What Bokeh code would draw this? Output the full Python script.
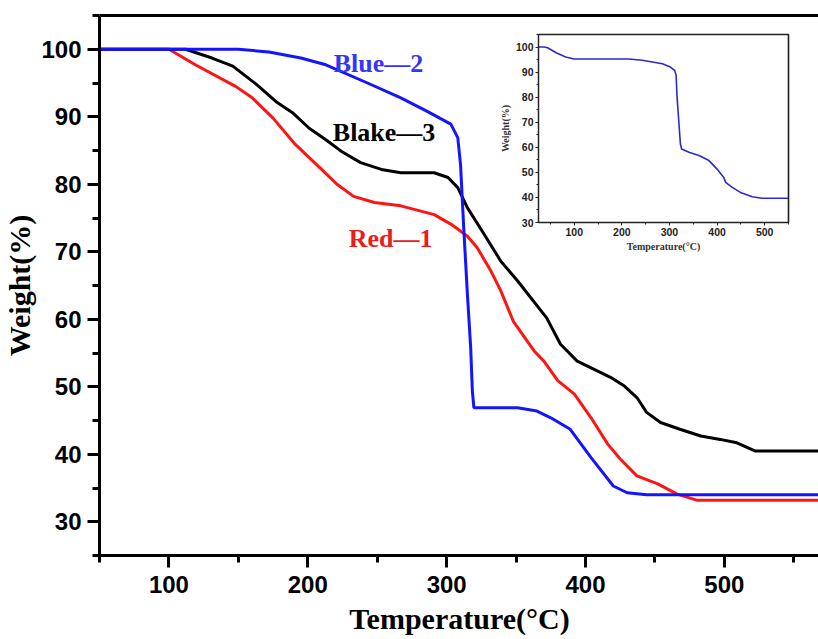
from bokeh.plotting import figure
from bokeh.models import SingleIntervalTicker, FixedTicker, LinearAxis, Range1d, Label
from bokeh.layouts import column
from bokeh.embed import file_html
from bokeh.resources import INLINE

# ---- data (main chart) ----
red_T = [50, 100, 119, 148, 160, 175, 191, 209, 221, 233, 248, 267, 291, 303, 315, 322,
         332, 339, 348, 363, 370, 380, 392, 404, 416, 425, 437, 452, 466, 480, 568.5]
red_W = [100, 100, 97.7, 94.5, 92.8, 89.8, 85.9, 82.4, 80.0, 78.2, 77.3, 76.8, 75.5, 74.1, 72.3, 70.6,
         67.1, 64.2, 59.7, 55.3, 53.8, 50.9, 48.9, 45.4, 41.5, 39.3, 36.8, 35.6, 34.1, 33.2, 33.2]

black_T = [50, 112, 131, 146, 163, 178, 189, 201, 213, 224, 238, 253, 267, 291, 301, 308, 315,
           327, 339, 351, 372, 382, 394, 404, 418, 428, 437, 444, 454, 468, 483, 497, 509, 522, 568.5]
black_W = [100, 100, 98.7, 97.5, 94.8, 92.1, 90.6, 88.3, 86.6, 84.9, 83.2, 82.2, 81.7, 81.7, 81.0, 79.5, 76.5,
           72.6, 68.6, 65.7, 60.2, 56.3, 53.8, 52.8, 51.4, 50.1, 48.4, 46.2, 44.7, 43.7, 42.7, 42.2, 41.7, 40.5, 40.5]

blue_T = [50, 150, 172, 195, 213, 243, 267, 286, 303, 308, 310, 312.4, 315, 317.3, 318.5, 319.6,
          351, 365, 375, 389, 404, 420, 430, 444, 568.5]
blue_W = [100, 100, 99.6, 98.7, 97.7, 95.0, 92.8, 90.8, 88.9, 86.9, 82.9, 73.1, 63.5, 55.8, 49.4, 46.9,
          46.9, 46.4, 45.4, 43.7, 39.5, 35.3, 34.3, 34.0, 34.0]

# ---- data (inset) ----
inset_T = [25, 37, 44, 62, 82, 100, 215, 243, 264, 285, 302, 311, 314, 316, 320, 323, 325.5,
           341, 362, 383, 400, 414, 418, 432, 449, 474, 494, 550]
inset_W = [100, 100, 99.7, 97.7, 96.0, 95.2, 95.2, 94.7, 94.0, 93.3, 92.0, 90.7, 88.7, 80.0, 69.3, 61.3, 59.3,
           58.0, 56.7, 54.7, 51.3, 48.0, 46.0, 44.0, 42.0, 40.3, 39.7, 39.7]

series_names = ["Red\u20141", "Blue\u20142", "Blake\u20143"]

BLUE = "#1414ff"
RED = "#ff1414"

p = figure(frame_width=720, frame_height=540,
           x_range=Range1d(50, 568.5), y_range=Range1d(25, 105),
           output_backend="svg", toolbar_location=None,
           min_border_left=90, min_border_right=0, min_border_top=15, min_border_bottom=76)
p.outline_line_color = None
p.grid.visible = False
p.background_fill_color = "white"
p.border_fill_color = "white"

p.xaxis.ticker = SingleIntervalTicker(interval=100, num_minor_ticks=2)
p.yaxis.ticker = SingleIntervalTicker(interval=10, num_minor_ticks=2)
for ax in (p.xaxis[0], p.yaxis[0]):
    ax.axis_line_width = 3
    ax.major_tick_line_width = 3
    ax.minor_tick_line_width = 3
    ax.major_tick_out = 12
    ax.major_tick_in = 0
    ax.minor_tick_out = 7
    ax.minor_tick_in = 0
    ax.major_label_text_font = "Liberation Sans"
    ax.major_label_text_font_style = "bold"
    ax.major_label_text_font_size = "24px"
    ax.major_label_text_color = "black"
    ax.axis_label_text_font = "Liberation Serif"
    ax.axis_label_text_font_style = "bold"
    ax.axis_label_text_font_size = "30px"
    ax.axis_label_text_color = "black"
p.xaxis.axis_label = "Temperature(\u00b0C)"
p.yaxis.axis_label = "Weight(%)"
p.xaxis.major_label_standoff = 8
p.yaxis.major_label_standoff = 6
p.xaxis.axis_label_standoff = 6
p.yaxis.axis_label_standoff = 2

top = LinearAxis(ticker=FixedTicker(ticks=[]), axis_line_width=3,
                 major_tick_line_color=None, minor_tick_line_color=None,
                 major_label_standoff=0)
p.add_layout(top, "above")

p.line(red_T, red_W, line_color=RED, line_width=3)
p.line(black_T, black_W, line_color="black", line_width=3)
p.line(blue_T, blue_W, line_color=BLUE, line_width=3)

label_font = dict(text_font="Liberation Serif", text_font_style="bold",
                  text_font_size="26px", text_baseline="middle", text_align="left")
p.add_layout(Label(x=218.7, y=97.9, text=series_names[1], text_color="#3535f5", **label_font))
p.add_layout(Label(x=218.0, y=87.6, text=series_names[2], text_color="black", **label_font))
p.add_layout(Label(x=229.5, y=71.9, text=series_names[0], text_color="#ec1c1c", **label_font))

# ---- inset ----
ins = figure(frame_width=250, frame_height=188,
             x_range=Range1d(25, 550), y_range=Range1d(30, 105),
             output_backend="svg", toolbar_location=None,
             min_border_left=90, min_border_right=8, min_border_top=6, min_border_bottom=30)
ins.grid.visible = False
ins.border_fill_color = None
ins.background_fill_color = "white"
ins.outline_line_color = "#222222"
ins.outline_line_width = 1.3
ins.xaxis.ticker = SingleIntervalTicker(interval=100, num_minor_ticks=2)
ins.yaxis.ticker = SingleIntervalTicker(interval=10, num_minor_ticks=2)
for ax in (ins.xaxis[0], ins.yaxis[0]):
    ax.axis_line_width = 1.2
    ax.axis_line_color = "#222222"
    ax.major_tick_line_color = "#222222"
    ax.minor_tick_line_color = "#222222"
    ax.major_tick_out = 3
    ax.major_tick_in = 0
    ax.minor_tick_out = 2
    ax.minor_tick_in = 0
    ax.major_label_text_font = "Liberation Sans"
    ax.major_label_text_font_style = "bold"
    ax.major_label_text_font_size = "10.5px"
    ax.major_label_text_color = "#222222"
    ax.major_label_standoff = 2
    ax.axis_label_text_font = "Liberation Serif"
    ax.axis_label_text_font_style = "bold"
    ax.axis_label_text_font_size = "10px"
    ax.axis_label_text_color = "#333333"
    ax.axis_label_standoff = 2
ins.xaxis.axis_label = "Temperature(\u00b0C)"
ins.yaxis.axis_label = "Weight(%)"
ins_right = LinearAxis(ticker=FixedTicker(ticks=[]), axis_line_width=1.4, axis_line_color="#222222",
                       major_tick_line_color=None, minor_tick_line_color=None,
                       major_label_standoff=0)
ins.add_layout(ins_right, "right")
ins.line(inset_T, inset_W, line_color="#2a2ad2", line_width=1.6)

inset_box = column(ins, styles={"position": "absolute", "left": "448px", "top": "28px", "z-index": "5"})

layout = column(p, inset_box, styles={"position": "relative"})
open("out.html", "w").write(file_html(layout, INLINE))
